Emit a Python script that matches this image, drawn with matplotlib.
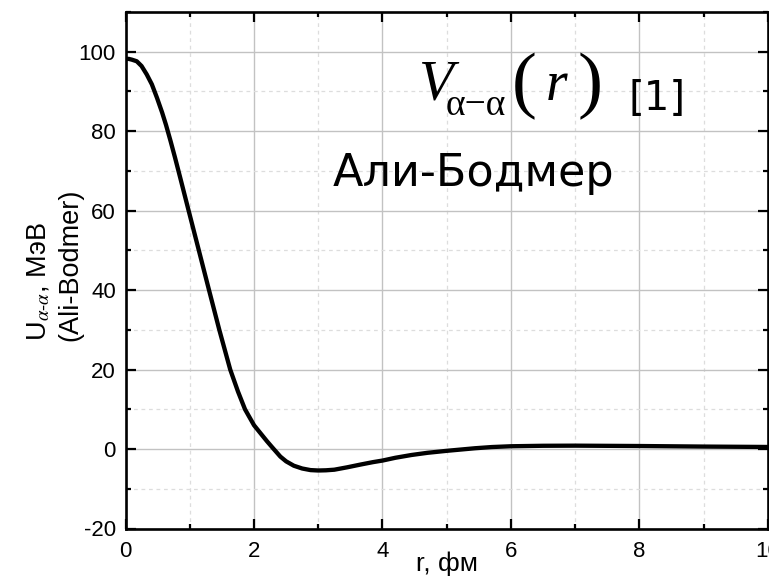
import matplotlib
matplotlib.use("Agg")
import matplotlib.pyplot as plt
from matplotlib.ticker import MultipleLocator

# Ali-Bodmer alpha-alpha potential (with Coulomb part), r in fm, U in MeV
r_fm = [0.00, 0.05, 0.10, 0.175, 0.25, 0.33, 0.41, 0.49, 0.57, 0.63, 0.70,
        0.77, 0.85, 0.97, 1.14, 1.30, 1.46, 1.63, 1.75, 1.86, 2.00, 2.10,
        2.20, 2.28, 2.41, 2.50, 2.62, 2.75, 2.88, 3.00, 3.12, 3.25, 3.45,
        3.66, 3.85, 4.00, 4.20, 4.45, 4.70, 5.00, 5.44, 5.70, 6.00, 6.50,
        7.00, 8.00, 9.00, 10.0]
u_mev = [98.2, 98.2, 98.0, 97.6, 96.4, 94.3, 91.8, 88.4, 84.7, 81.6, 77.6,
         73.4, 68.4, 60.8, 50.1, 40.0, 30.0, 20.0, 14.5, 10.0, 6.0, 4.0,
         2.0, 0.5, -1.9, -3.1, -4.2, -4.9, -5.3, -5.4, -5.35, -5.2, -4.6,
         -3.9, -3.3, -2.9, -2.2, -1.5, -0.95, -0.45, 0.2, 0.5, 0.7, 0.82,
         0.85, 0.76, 0.62, 0.52]

x_ticks = [0, 2, 4, 6, 8, 10]
y_ticks = [-20, 0, 20, 40, 60, 80, 100]

plt.rcParams["font.family"] = ["Liberation Sans", "DejaVu Sans"]
plt.rcParams["mathtext.fontset"] = "stix"
plt.rcParams["axes.unicode_minus"] = False

W, H = 769, 576
AX_L, AX_R, AX_T, AX_B = 125.5, 768.0, 12.0, 528.5
fig = plt.figure(figsize=(W / 100, H / 100), dpi=100)
ax = fig.add_axes([AX_L / W, 1 - AX_B / H, (AX_R - AX_L) / W, (AX_B - AX_T) / H])

ax.plot(r_fm, u_mev, color="black", lw=3.1, solid_capstyle="round",
        solid_joinstyle="round", zorder=3)

ax.set_xlim(0, 10)
ax.set_ylim(-20, 110)
ax.set_xticks(x_ticks)
ax.set_yticks(y_ticks)
ax.xaxis.set_minor_locator(MultipleLocator(1))
ax.yaxis.set_minor_locator(MultipleLocator(10))

ax.grid(which="major", color="#c2c2c2", lw=1.0, ls="-", zorder=0)
ax.grid(which="minor", color="#dddddd", lw=0.9, ls=(0, (3, 3)), zorder=0)

for sp in ax.spines.values():
    sp.set_linewidth(1.9)
ax.tick_params(which="both", direction="in", top=True, right=True,
               width=1.6, color="black")
ax.tick_params(which="major", length=7.5, labelsize=16, pad=7)
ax.tick_params(axis="x", which="major", pad=9)
ax.tick_params(which="minor", length=3.8)

ax.set_xlabel("r, фм", fontsize=19)
ax.xaxis.set_label_coords(0.5, (AX_B - 551) / (AX_B - AX_T))
ax.set_ylabel("U$_{\\alpha\\text{-}\\alpha}$, МэВ\n(Ali-Bodmer)",
              fontsize=19.5, linespacing=1.25)
ax.yaxis.label.set_multialignment("left")
ax.yaxis.set_label_coords((83 - AX_L) / (AX_R - AX_L),
                          (AX_B - 265) / (AX_B - AX_T))


def px(x, y):
    return x / W, 1 - y / H


serif = "Liberation Serif"
fig.text(*px(418, 100), "V", fontsize=41, family=serif, style="italic",
         ha="left", va="baseline")
fig.text(*px(446, 115), "α−α", fontsize=27, family=serif,
         ha="left", va="baseline")
fig.text(*px(512, 86), "(", fontsize=54, family=serif,
         ha="left", va="center")
fig.text(*px(546, 100), "r", fontsize=40, family=serif, style="italic",
         ha="left", va="baseline")
fig.text(*px(578, 86), ")", fontsize=54, family=serif,
         ha="left", va="center")
fig.text(*px(628, 110), "[1]", fontsize=29, family="DejaVu Sans",
         ha="left", va="baseline")
fig.text(*px(333, 186), "Али-Бодмер", fontsize=32, family="DejaVu Sans",
         ha="left", va="baseline")

fig.savefig("out.png", dpi=100)
